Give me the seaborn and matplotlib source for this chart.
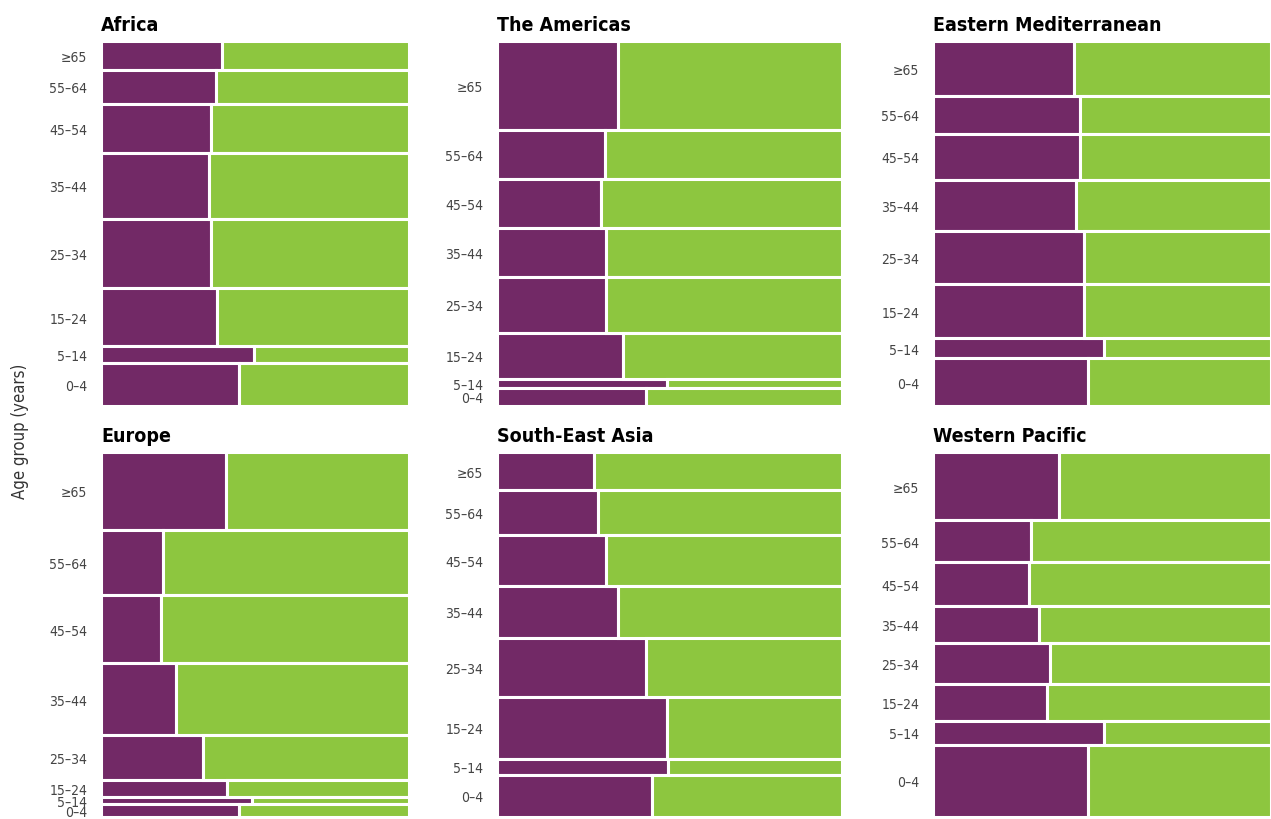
import numpy as np
import pandas as pd
import matplotlib
matplotlib.use("Agg")
import matplotlib.pyplot as plt
import seaborn as sns

# ---- data (rows listed top to bottom) ----
age_groups = ["≥65", "55–64", "45–54", "35–44", "25–34", "15–24", "5–14", "0–4"]
regions = ["Africa", "The Americas", "Eastern Mediterranean",
           "Europe", "South-East Asia", "Western Pacific"]

# relative row size (share of group in the region, arbitrary units)
africa_size = [29, 34, 49, 66, 70, 58, 17, 43]
americas_size = [89, 49, 49, 49, 56, 46, 9, 18]
emed_size = [55, 38, 46, 52, 53, 54, 20, 48]
europe_size = [78, 65, 69, 72, 45, 17, 7, 13]
sea_size = [38, 45, 51, 51, 59, 62, 16, 42]
wpac_size = [68, 42, 44, 36, 41, 37, 24, 72]

# proportion in the purple category for each row
africa_share = [0.393, 0.373, 0.357, 0.351, 0.357, 0.377, 0.497, 0.448]
americas_share = [0.351, 0.313, 0.301, 0.316, 0.316, 0.365, 0.493, 0.432]
emed_share = [0.417, 0.435, 0.435, 0.423, 0.447, 0.447, 0.506, 0.459]
europe_share = [0.406, 0.201, 0.195, 0.244, 0.331, 0.409, 0.490, 0.448]
sea_share = [0.281, 0.293, 0.316, 0.351, 0.432, 0.493, 0.496, 0.449]
wpac_share = [0.373, 0.290, 0.284, 0.314, 0.346, 0.337, 0.506, 0.459]

sizes = [africa_size, americas_size, emed_size, europe_size, sea_size, wpac_size]
shares = [africa_share, americas_share, emed_share, europe_share, sea_share, wpac_share]

PURPLE = "#722966"
GREEN = "#8DC63F"

sns.set_theme(style="white")
plt.rcParams["font.family"] = ["DejaVu Sans"]
plt.rcParams["font.stretch"] = "condensed"

W, H = 1271, 820
fig = plt.figure(figsize=(W / 100, H / 100), dpi=100)

col_px = [(101, 409), (497, 842), (933, 1271)]
row_px = [(42, 407), (453, 818)]

for i, (region, size, share) in enumerate(zip(regions, sizes, shares)):
    r, c = divmod(i, 3)
    x0, x1 = col_px[c]
    y0, y1 = row_px[r]
    ax = fig.add_axes([x0 / W, 1 - y1 / H, (x1 - x0) / W, (y1 - y0) / H])
    df = pd.DataFrame({"age": age_groups, "size": size, "share": share})
    df["start"] = df["size"].cumsum() - df["size"]
    df["center"] = df["start"] + df["size"] / 2
    total = df["size"].sum()
    ax.barh(df["center"], df["share"], height=df["size"], color=PURPLE,
            edgecolor="white", linewidth=2.2)
    ax.barh(df["center"], 1 - df["share"], left=df["share"], height=df["size"],
            color=GREEN, edgecolor="white", linewidth=2.2)
    ax.set_xlim(0, 1)
    ax.set_ylim(total, 0)
    ax.set_yticks(df["center"])
    ax.set_yticklabels(df["age"], fontsize=10, color="#444444",
                       fontstretch="condensed")
    ax.set_xticks([])
    ax.tick_params(axis="y", length=0, pad=10)
    for s in ax.spines.values():
        s.set_visible(False)
    ax.set_title(region, loc="left", fontweight="bold", fontsize=14,
                 color="black", pad=8, fontstretch="condensed")

fig.text(20 / W, 1 - 431 / H, "Age group (years)", rotation=90,
         va="center", ha="center", fontsize=12, color="#333333",
         fontstretch="condensed")

fig.savefig("out.png", dpi=100)
